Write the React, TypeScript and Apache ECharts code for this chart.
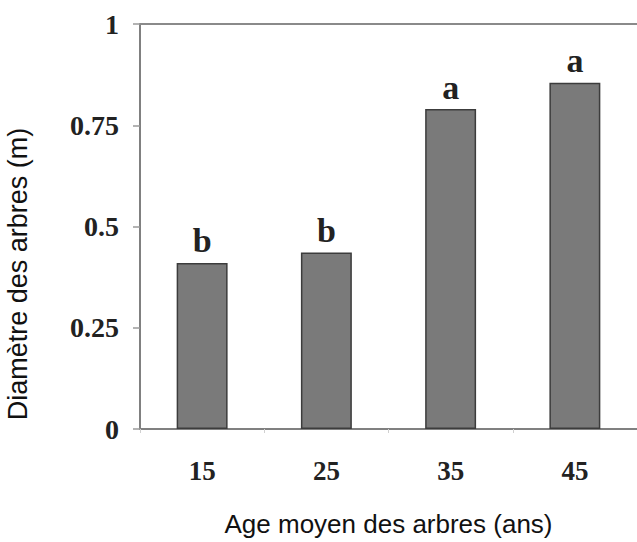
import React, { useEffect, useRef } from "react";
import * as echarts from "echarts";

const categories = ["15", "25", "35", "45"];
const diameters = [0.41, 0.436, 0.79, 0.855];
const groupLetters = ["b", "b", "a", "a"];
const yTicks = { min: 0, max: 1, interval: 0.25 };
const xTitle = "Age moyen des arbres (ans)";
const yTitle = "Diamètre des arbres (m)";

export default function App() {
  const ref = useRef<HTMLDivElement>(null);
  useEffect(() => {
    if (!ref.current) return;
    const chart = echarts.init(ref.current, undefined, { renderer: "svg" });
    const serif = "'Liberation Serif', 'Times New Roman', serif";
    const sans = "'Liberation Sans', Arial, sans-serif";
    chart.setOption({
      animation: false,
      backgroundColor: "#ffffff",
      grid: { left: 140, right: -3, top: 24, bottom: 113 },
      xAxis: [
        {
          type: "category",
          data: categories,
          position: "bottom",
          axisLine: { show: true, lineStyle: { color: "#808080", width: 2 } },
          axisTick: { show: true, length: 4, lineStyle: { color: "#d0d0d0", width: 1 } },
          axisLabel: {
            margin: 28,
            fontFamily: serif,
            fontWeight: "bold",
            fontSize: 27,
            color: "#222",
          },
          name: xTitle,
          nameLocation: "middle",
          nameGap: 82,
          nameTextStyle: { fontFamily: sans, fontSize: 26, color: "#111" },
        },
        {
          type: "category",
          data: categories,
          position: "top",
          axisLine: { show: true, lineStyle: { color: "#8a8a8a", width: 2 } },
          axisTick: { show: false },
          axisLabel: { show: false },
        },
      ],
      yAxis: {
        type: "value",
        min: yTicks.min,
        max: yTicks.max,
        interval: yTicks.interval,
        axisLine: { show: true, lineStyle: { color: "#808080", width: 2 } },
        axisTick: { show: true, length: 7, lineStyle: { color: "#9a9a9a", width: 1.5 } },
        splitLine: { show: false },
        axisLabel: {
          margin: 21,
          fontFamily: serif,
          fontWeight: "bold",
          fontSize: 28,
          color: "#222",
        },
      },
      graphic: [
        {
          type: "text",
          x: 18,
          y: 274,
          rotation: Math.PI / 2,
          style: {
            text: yTitle,
            fontFamily: sans,
            fontSize: 27,
            fill: "#111",
            align: "center",
            verticalAlign: "middle",
          },
        },
      ],
      series: [
        {
          type: "bar",
          xAxisIndex: 0,
          data: diameters,
          barWidth: "41%",
          itemStyle: { color: "#7a7a7a", borderColor: "#3c3c3c", borderWidth: 1.5 },
          label: {
            show: true,
            position: "top",
            distance: 5,
            formatter: (p: any) => groupLetters[p.dataIndex],
            fontFamily: serif,
            fontWeight: "bold",
            fontSize: 34,
            color: "#222",
          },
        },
      ],
    });
    return () => chart.dispose();
  }, []);
  return (
    <div
      ref={ref}
      style={{ position: "fixed", left: 0, top: 0, width: 637, height: 542 }}
    />
  );
}
